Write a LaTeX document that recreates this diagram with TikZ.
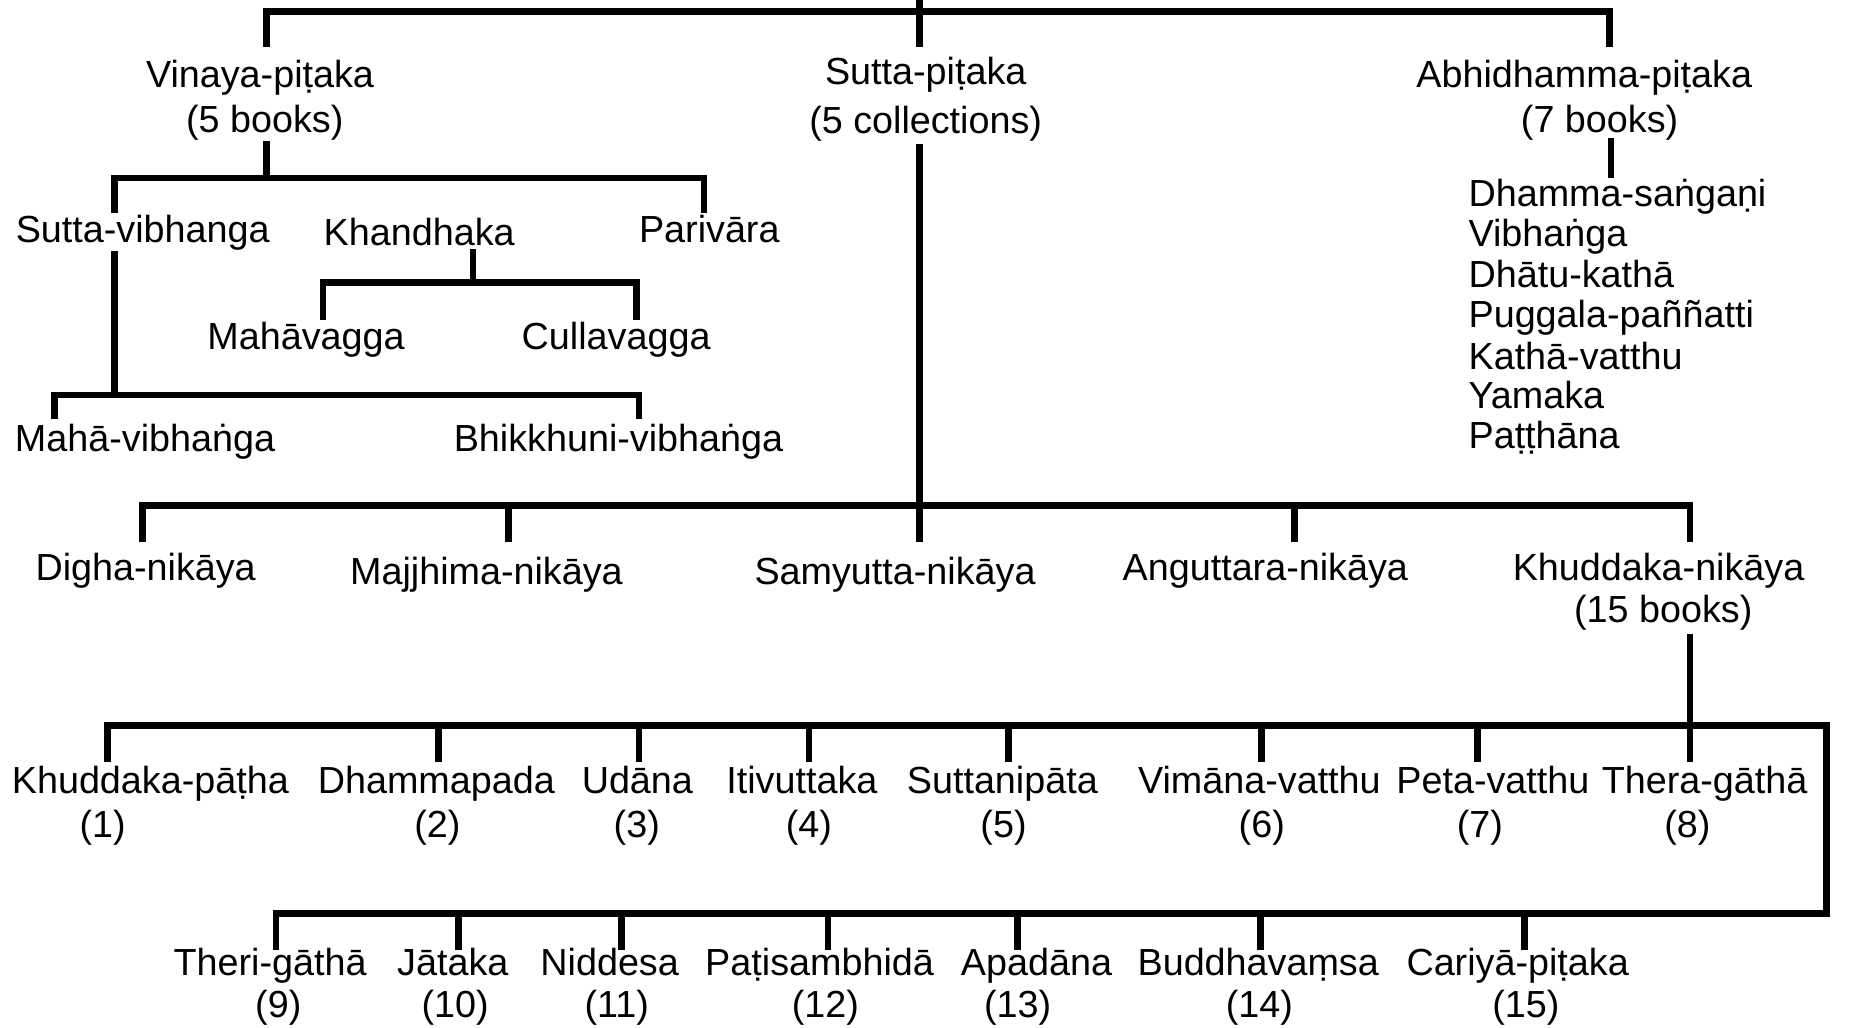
\documentclass[tikz,border=0pt]{standalone}
\usepackage{fontspec}
\setmainfont{Liberation Sans}
\begin{document}
\begin{tikzpicture}[x=0.5pt,y=-0.5pt,
  lbl/.style={font=\fontsize{16}{19}\selectfont, inner sep=0pt, anchor=base},
  lst/.style={lbl, anchor=base west},
  link/.style={line width=2.8pt, line join=miter, line cap=butt}]
\useasboundingbox (0,0) rectangle (1568,871);

% ---------- the three baskets ----------
\node[lbl] (vin)   at (220.5,74)  {Vinaya-piṭaka};
\node[lbl] (vinN)  at (224.5,112) {(5 books)};
\node[lbl] (sut)   at (785,72)    {Sutta-piṭaka};
\node[lbl] (sutN)  at (785,113)   {(5 collections)};
\node[lbl] (abh)   at (1343.5,74) {Abhidhamma-piṭaka};
\node[lbl] (abhN)  at (1356.5,112){(7 books)};

\coordinate (root)  at (780,-6);
\coordinate (b0)    at (780,10);
\coordinate (d-vin) at (226,40);
\coordinate (d-sut) at (780,40);
\coordinate (d-abh) at (1365,40);
\draw[link] (d-vin) |- (b0) -| (d-abh);
\draw[link] (root) -- (d-sut);

% ---------- Vinaya-pitaka ----------
\node[lbl] (svb) at (121,206)   {Sutta-vibhanga};
\node[lbl] (kha) at (355.5,208) {Khandhaka};
\node[lbl] (par) at (601.5,206) {Parivāra};
\node[lbl] (mv)  at (259.5,296) {Mahāvagga};
\node[lbl] (cv)  at (522.5,296) {Cullavagga};
\node[lbl] (mvb) at (123,383)   {Mahā-vibhaṅga};
\node[lbl] (bvb) at (524.5,383) {Bhikkhuni-vibhaṅga};

\coordinate (u-vin) at (226,120);
\coordinate (b-vin) at (226,151);
\coordinate (d-svb) at (97,181);
\coordinate (d-par) at (597,181);
\draw[link] (u-vin) -- (b-vin);
\draw[link] (d-svb) |- (b-vin) -| (d-par);

\coordinate (u-kha) at (401,211);
\coordinate (b-kha) at (401,239.5);
\coordinate (d-mv)  at (274,271);
\coordinate (d-cv)  at (540,271);
\draw[link] (u-kha) -- (b-kha);
\draw[link] (d-mv) |- (b-kha) -| (d-cv);

\coordinate (u-svb) at (97,213);
\coordinate (b-svb) at (97,335);
\coordinate (d-mvb) at (46,355);
\coordinate (d-bvb) at (542,355);
\draw[link] (u-svb) -- (b-svb);
\draw[link] (d-mvb) |- (b-svb) -| (d-bvb);

% ---------- Abhidhamma-pitaka ----------
\coordinate (u-abh) at (1366,117);
\coordinate (d-abl) at (1366,151);
\draw[link] (u-abh) -- (d-abl);
\node[lst] (ab1) at (1245,175) {Dhamma-saṅgaṇi};
\node[lst] (ab2) at (1245,209) {Vibhaṅga};
\node[lst] (ab3) at (1245,244) {Dhātu-kathā};
\node[lst] (ab4) at (1245,278) {Puggala-paññatti};
\node[lst] (ab5) at (1245,313) {Kathā-vatthu};
\node[lst] (ab6) at (1245,346) {Yamaka};
\node[lst] (ab7) at (1245,380) {Paṭṭhāna};

% ---------- Sutta-pitaka: the five nikayas ----------
\node[lbl] (dig)  at (123.5,492)  {Digha-nikāya};
\node[lbl] (maj)  at (412.5,496)  {Majjhima-nikāya};
\node[lbl] (sam)  at (759,496)    {Samyutta-nikāya};
\node[lbl] (ang)  at (1073,492)   {Anguttara-nikāya};
\node[lbl] (khn)  at (1406.5,492) {Khuddaka-nikāya};
\node[lbl] (khnN) at (1410.5,527.5){(15 books)};

\coordinate (u-sut) at (780,122);
\coordinate (b-sut) at (780,428.5);
\coordinate (d-dig) at (121,460);
\coordinate (d-maj) at (431,460);
\coordinate (d-sam) at (780,460);
\coordinate (d-ang) at (1098,460);
\coordinate (d-khn) at (1433,460);
\draw[link] (u-sut) -- (d-sam);
\draw[link] (d-dig) |- (b-sut) -| (d-khn);
\draw[link] (d-maj |- b-sut) -- (d-maj);
\draw[link] (d-ang |- b-sut) -- (d-ang);

% ---------- Khuddaka-nikaya: fifteen books ----------
\node[lbl] (kp)  at (127.5,673) {Khuddaka-pāṭha};
\node[lbl] (dp)  at (370,673)   {Dhammapada};
\node[lbl] (ud)  at (540.5,673) {Udāna};
\node[lbl] (it)  at (680,673)   {Itivuttaka};
\node[lbl] (sn)  at (850,673)   {Suttanipāta};
\node[lbl] (vv)  at (1068,673)  {Vimāna-vatthu};
\node[lbl] (pv)  at (1266,673)  {Peta-vatthu};
\node[lbl] (tg)  at (1445.5,673){Thera-gāthā};
\node[lbl] (n1)  at (87,710)    {(1)};
\node[lbl] (n2)  at (371,710)   {(2)};
\node[lbl] (n3)  at (540,710)   {(3)};
\node[lbl] (n4)  at (686,710)   {(4)};
\node[lbl] (n5)  at (851,710)   {(5)};
\node[lbl] (n6)  at (1070,710)  {(6)};
\node[lbl] (n7)  at (1255,710)  {(7)};
\node[lbl] (n8)  at (1431,710)  {(8)};

\node[lbl] (thg) at (229,827)   {Theri-gāthā};
\node[lbl] (jat) at (384,827)   {Jātaka};
\node[lbl] (nid) at (517,827)   {Niddesa};
\node[lbl] (pat) at (695,827)   {Paṭisambhidā};
\node[lbl] (apa) at (879,827)   {Apadāna};
\node[lbl] (bud) at (1067,827)  {Buddhavaṃsa};
\node[lbl] (car) at (1287,827)  {Cariyā-piṭaka};
\node[lbl] (n9)  at (236,862.5) {(9)};
\node[lbl] (n10) at (386,862.5) {(10)};
\node[lbl] (n11) at (523,862.5) {(11)};
\node[lbl] (n12) at (700,862.5) {(12)};
\node[lbl] (n13) at (863,862.5) {(13)};
\node[lbl] (n14) at (1068,862.5){(14)};
\node[lbl] (n15) at (1294,862.5){(15)};

\coordinate (u-khn) at (1433,538);
\coordinate (b-kh1) at (1433,615);
\coordinate (c-r1)  at (1549,615);
\coordinate (c-r2)  at (1549,774.5);
\coordinate (d-kp)  at (91,646);
\coordinate (d-dp)  at (372,646);
\coordinate (d-ud)  at (542,646);
\coordinate (d-it)  at (686,646);
\coordinate (d-sn)  at (855,646);
\coordinate (d-vv)  at (1070,646);
\coordinate (d-pv)  at (1253,646);
\coordinate (d-tg)  at (1433,646);
\coordinate (d-thg) at (234,806);
\coordinate (d-jat) at (389,806);
\coordinate (d-nid) at (527,806);
\coordinate (d-pat) at (702,806);
\coordinate (d-apa) at (863,806);
\coordinate (d-bud) at (1069,806);
\coordinate (d-car) at (1293,806);

\draw[link] (u-khn) -- (d-tg);
\draw[link] (d-kp) |- (c-r1) -- (c-r2) -| (d-thg);
\foreach \c in {d-dp,d-ud,d-it,d-sn,d-vv,d-pv}
  \draw[link] (\c |- c-r1) -- (\c);
\foreach \c in {d-jat,d-nid,d-pat,d-apa,d-bud,d-car}
  \draw[link] (\c |- c-r2) -- (\c);
\end{tikzpicture}
\end{document}
